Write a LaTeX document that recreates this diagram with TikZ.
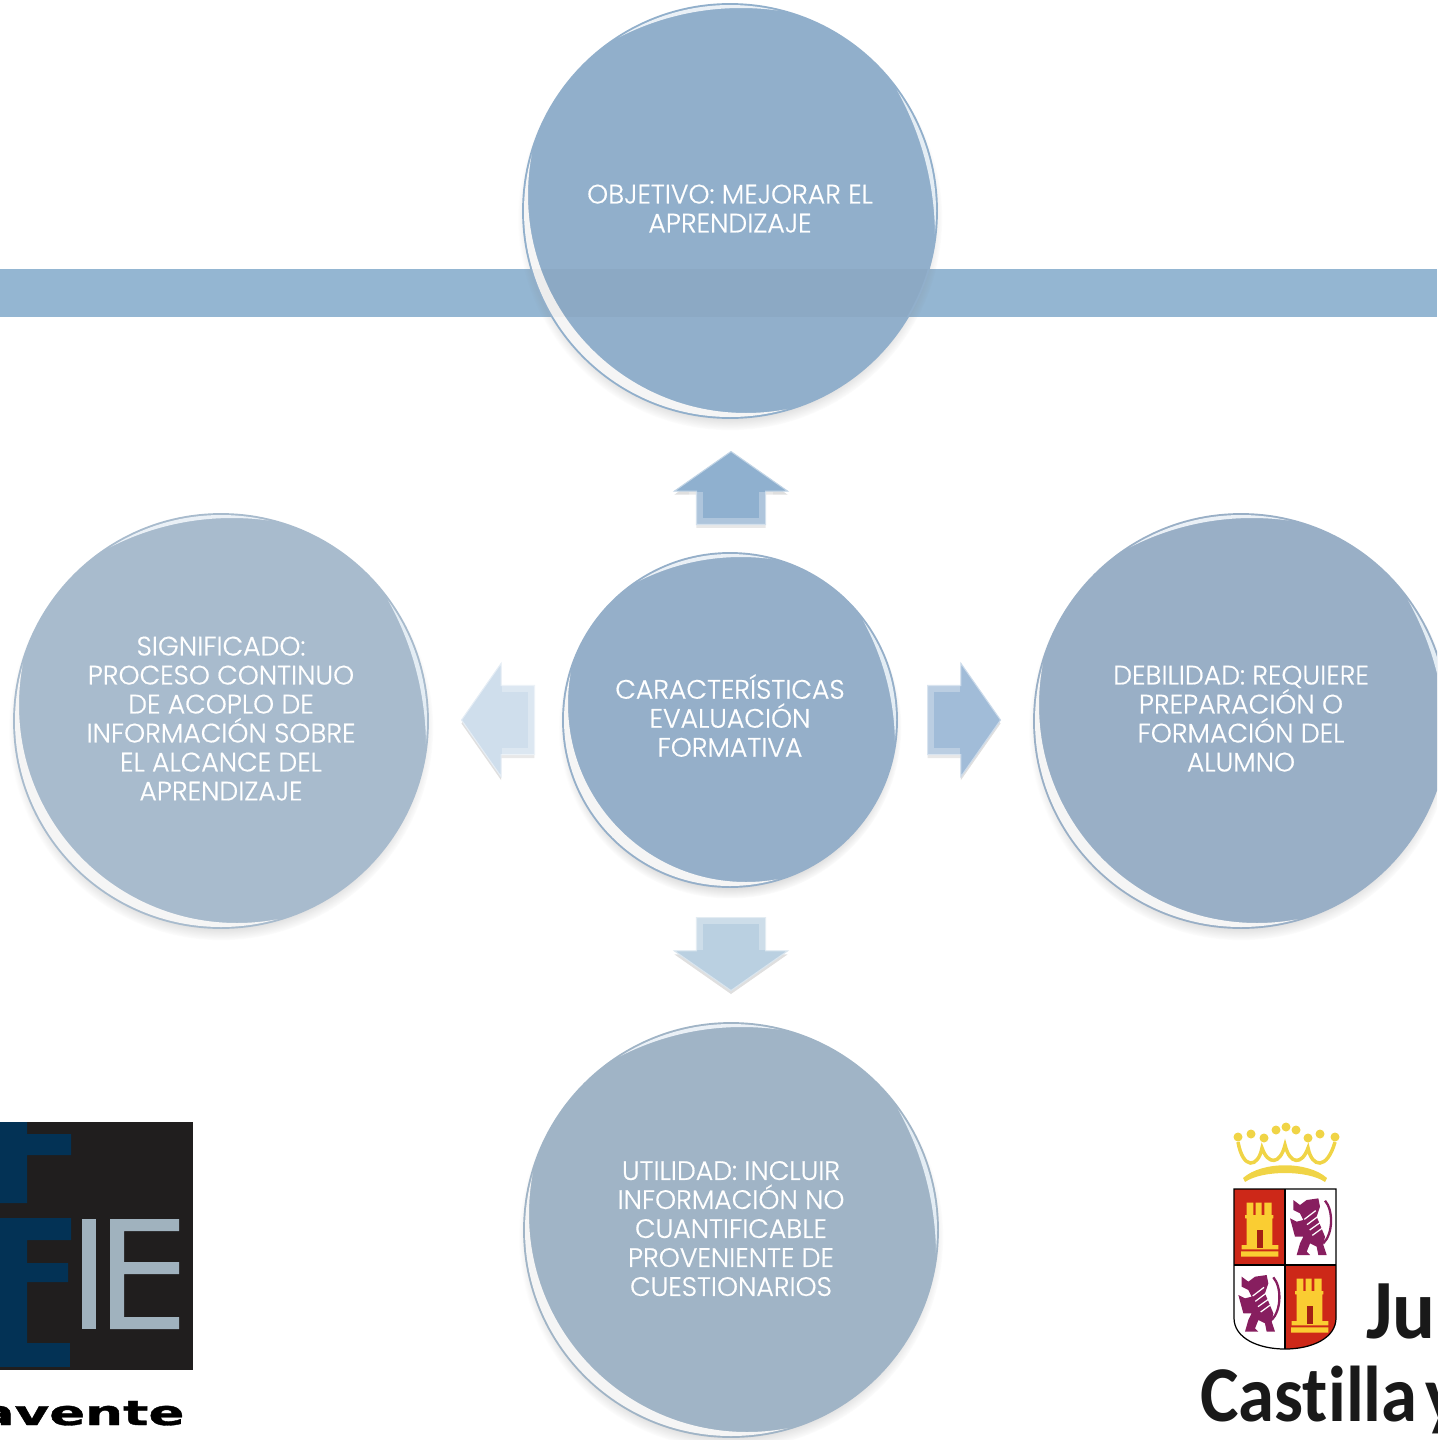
\documentclass[tikz,border=0pt]{standalone}
\usepackage{fontspec}
\setmainfont{Poppins Light}[FakeBold=0.5]
\newfontfamily\logofont{DejaVu Sans}[BoldFeatures={FakeBold=1}]
\newfontfamily\juntafont{Carlito}[Ligatures=CommonOff]
\usetikzlibrary{shapes.arrows,shadows}
\definecolor{bandblue}{RGB}{148,182,210}
\definecolor{discobj}{RGB}{145,175,203}
\definecolor{discsig}{RGB}{168,187,205}
\definecolor{discdeb}{RGB}{153,175,198}
\definecolor{discuti}{RGB}{160,180,198}
\definecolor{disccar}{RGB}{149,175,201}
\definecolor{arrup}{RGB}{143,176,207}
\definecolor{arrright}{RGB}{161,188,216}
\definecolor{arrleft}{RGB}{207,222,236}
\definecolor{arrdown}{RGB}{186,208,225}
\definecolor{fieblack}{RGB}{32,30,30}
\definecolor{fieblue}{RGB}{3,50,85}
\definecolor{fiegrey}{RGB}{160,178,190}
\definecolor{armsred}{RGB}{205,40,24}
\definecolor{armsgold}{RGB}{250,205,50}
\definecolor{crowngold}{RGB}{240,212,70}
\definecolor{armspurple}{RGB}{135,30,95}
\newcommand{\rimglow}[3]{\fill[#1, even odd rule] (path picture bounding box.south west) rectangle (path picture bounding box.north east) ([shift={#2}]path picture bounding box.center) circle [radius=#3];}
\newcommand{\disclabelfont}{\fontsize{15.2}{16.5}\selectfont\lineskiplimit=-20pt\relax}
\tikzset{
	disc/.style 2 args={circle, inner sep=0pt, minimum size=#2*0.04cm, fill=#1, text=white, align=center,
		font=\disclabelfont,
		circular drop shadow={shadow xshift=0pt, shadow yshift=-4pt, shadow scale=1.02, opacity=.6},
		path picture={
			\begin{scope}
				\clip (path picture bounding box.center) circle [radius=#2-2];
				\rimglow{white!92!gray}{(16,-16)}{#2+10}
				\rimglow{white!80!bandblue}{(11,65)}{#2+60}
				\rimglow{white!75!bandblue}{(-97,26)}{#2+94}
			\end{scope}
		}},
	blockarrow/.style={single arrow, anchor=tail, inner xsep=0pt, inner ysep=0.68cm, minimum width=2.24cm, minimum height=1.46cm,
		single arrow head extend=0.44cm, single arrow tip angle=110, fill=#1, draw=white!45!#1, line width=0.6pt,
		drop shadow={shadow xshift=0pt, shadow yshift=-2pt, opacity=.25}},
	bevelstrip/.style={white, opacity=.28, line width=0.28cm, miter limit=4},
	castlepart/.style={fill=armsgold},
	lionpart/.style={fill=armspurple}
}
\begin{document}
\begin{tikzpicture}[x=0.02cm,y=-0.02cm]
	\useasboundingbox (0,0) rectangle (1437,1440);
	\clip (0,0) rectangle (1437,1440);
%	band
	\fill[bandblue] (0,269) rectangle (1437,317);
%	discs
	\node[disc={discobj}{208}, text depth=0.1cm] (objetivo) at (730,211) {OBJETIVO: MEJORAR EL\\APRENDIZAJE};
	\node[disc={discsig}{208}, text depth=0.1cm] (significado) at (221,721) {SIGNIFICADO:\\PROCESO CONTINUO\\DE ACOPLO DE\\INFORMACIÓN SOBRE\\EL ALCANCE DEL\\APRENDIZAJE};
	\node[disc={discdeb}{208}, text depth=0.1cm] (debilidad) at (1241,721) {DEBILIDAD: REQUIERE\\PREPARACIÓN O\\FORMACIÓN DEL\\ALUMNO};
	\node[disc={discuti}{208}, text depth=0.06cm] (utilidad) at (731,1230) {UTILIDAD: INCLUIR\\INFORMACIÓN NO\\CUANTIFICABLE\\PROVENIENTE DE\\CUESTIONARIOS};
	\node[disc={disccar}{168}, text depth=0.18cm] (caracteristicas) at (730,720) {CARACTERÍSTICAS\\EVALUACIÓN\\FORMATIVA};
	\begin{scope}
		\clip (objetivo.center) circle [radius=206];
		\fill[black, opacity=.03] (0,269) rectangle (1437,317);
	\end{scope}
%	arrows
	\node[blockarrow=arrup, rotate=90] (arrowup) at (731,525) {};
	\node[blockarrow=arrright] (arrowright) at (927,720) {};
	\node[blockarrow=arrleft, rotate=180] (arrowleft) at (535,720) {};
	\node[blockarrow=arrdown, rotate=-90] (arrowdown) at (731,917) {};
	\foreach \arrowname in {arrowup,arrowright,arrowleft,arrowdown}
		\draw[bevelstrip] (\arrowname.before head) -- (\arrowname.after tail) -- (\arrowname.before tail) -- (\arrowname.after head);
%	fie logo
	\fill[fieblack] (0,1122) rectangle (193,1370);
	\fill[fieblue] (0,1122) rectangle (27,1203) (27,1134) rectangle (71,1155);
	\fill[fieblue] (0,1218) rectangle (27,1345) (27,1218) rectangle (71,1240) (27,1263) rectangle (68,1282);
	\fill[fieblue] (0,1343) rectangle (70,1367);
	\fill[fiegrey] (82,1219) rectangle (96,1329);
	\fill[fiegrey] (110,1219) rectangle (124,1329) (124,1219) rectangle (179,1231) (124,1262) rectangle (179,1274) (124,1317) rectangle (179,1329);
	\node[font=\logofont\bfseries\fontsize{19.5}{20}\selectfont, anchor=base east, xscale=1.55, transform shape, inner sep=0pt] (benavente) at (185,1425) {avente};
%	crown
	\fill[crowngold] (1243,1178) .. controls (1262,1161) and (1308,1161) .. (1327,1178) -- (1325,1182) .. controls (1308,1170) and (1262,1170) .. (1245,1182) -- cycle;
	\draw[crowngold, line width=2pt] (1238,1142) .. controls (1243,1170) and (1258,1168) .. (1262,1148) .. controls (1268,1165) and (1280,1165) .. (1285,1145) .. controls (1290,1165) and (1302,1165) .. (1308,1148) .. controls (1312,1168) and (1327,1170) .. (1335,1142);
	\foreach \crownx/\crowny in {1238/1137,1251/1134,1264/1138,1276/1130,1286/1127,1296/1130,1308/1138,1320/1134,1335/1137}
		\fill[crowngold] (\crownx,\crowny) circle [radius=4.5];
%	shield
	\fill[white] (1234,1189) -- (1336,1189) -- (1336,1318) .. controls (1336,1338) and (1312,1349) .. (1285,1349) .. controls (1258,1349) and (1234,1338) .. (1234,1318) -- cycle;
	\fill[armsred] (1234,1189) rectangle (1285,1265);
	\fill[armsred] (1285,1265) -- (1336,1265) -- (1336,1318) .. controls (1336,1338) and (1312,1349) .. (1285,1349) -- cycle;
	\begin{scope}[shift={(1225,1180)}, x=0.00667cm, y=-0.00667cm]
		\foreach \shiftx/\shifty in {0/0,150/228} {
			\begin{scope}[shift={(\shiftx,\shifty)}]
				\fill[castlepart] (65,68) rectangle (85,105) (92,68) rectangle (110,105) (118,68) rectangle (140,105);
				\fill[castlepart] (60,105) rectangle (145,115) (65,115) rectangle (142,195) (50,195) rectangle (160,208) (48,214) rectangle (160,230);
				\fill[armsred!80!black] (95,150) rectangle (115,205);
			\end{scope}
		}
		\foreach \shiftx/\shifty in {0/0,-155/230} {
			\begin{scope}[shift={(\shiftx,\shifty)}]
				\fill[lionpart] (205,60) -- (225,75) -- (245,60) -- (280,55) -- (285,80) -- (275,110) -- (300,170) -- (295,195) -- (305,225) -- (280,225) -- (275,200) -- (255,190) -- (245,215) -- (255,225) -- (215,225) -- (225,190) -- (235,170) -- (210,170) -- (195,115) -- (215,125) -- (235,120) -- (225,100) -- (205,90) -- cycle;
				\draw[white, line width=0.7pt] (238,118) -- (272,92) (246,134) -- (278,110) (254,150) -- (285,128) (262,166) -- (291,145);
				\draw[armspurple, line width=1.3pt] (295,190) .. controls (325,160) and (325,90) .. (300,62);
			\end{scope}
		}
	\end{scope}
	\draw[black, line width=0.7pt] (1234,1189) -- (1336,1189) -- (1336,1318) .. controls (1336,1338) and (1312,1349) .. (1285,1349) .. controls (1258,1349) and (1234,1338) .. (1234,1318) -- cycle;
	\draw[black, line width=0.6pt] (1285,1189) -- (1285,1349) (1234,1265) -- (1336,1265);
	\node[font=\juntafont\bfseries\fontsize{48}{48}\selectfont, anchor=base west, xscale=.95, transform shape, inner sep=0pt, text=black!90] (junta) at (1366,1338) {Ju};
	\node[font=\juntafont\bfseries\fontsize{45}{45}\selectfont, anchor=base west, xscale=.92, transform shape, inner sep=0pt, text=black!90] (castilla) at (1200,1421) {Castilla\kern 0.1em y};
\end{tikzpicture}
\end{document}
